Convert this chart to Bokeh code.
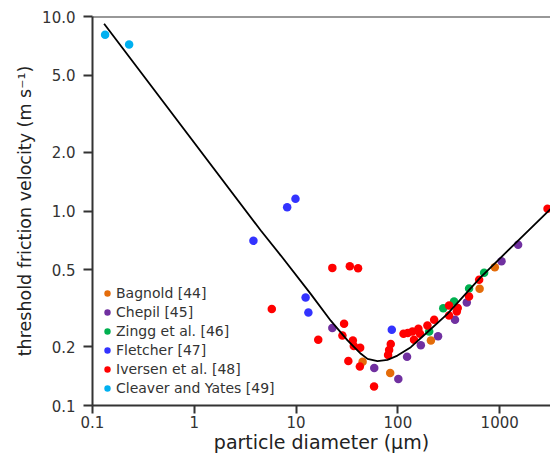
from bokeh.plotting import figure
from bokeh.models import (Range1d, FixedTicker, CustomJSTickFormatter, Span,
                          Legend, LegendItem)
from bokeh.embed import file_html
from bokeh.resources import INLINE

# ---------------- data ----------------
bagnold_d = [45, 84, 211, 635, 895]
bagnold_u = [0.168, 0.147, 0.216, 0.398, 0.514]

chepil_d = [22.7, 58.6, 101, 123, 168, 248, 364, 475, 1042, 1517]
chepil_u = [0.250, 0.156, 0.137, 0.178, 0.204, 0.227, 0.276, 0.339, 0.552, 0.670]

zingg_d = [203, 279, 356, 500, 703]
zingg_u = [0.240, 0.316, 0.343, 0.400, 0.481]

fletcher_d = [3.81, 8.17, 9.86, 12.4, 13.2, 87.1]
fletcher_u = [0.703, 1.046, 1.156, 0.359, 0.301, 0.245]

iversen_d = [5.77, 16.5, 22.7, 33.7, 40.6, 29.6, 28.5, 36.1, 36.9, 42.6, 32.6,
             42.3, 58.3, 85.1, 82, 80.1, 113.5, 125, 139, 159, 165, 144, 195,
             227, 318, 387, 379, 318, 500, 628, 2950]
iversen_u = [0.313, 0.218, 0.51, 0.52, 0.508, 0.263, 0.229, 0.216, 0.202, 0.198,
             0.1695, 0.1585, 0.1253, 0.207, 0.193, 0.182, 0.234, 0.236, 0.240,
             0.248, 0.234, 0.218, 0.2575, 0.276, 0.327, 0.317, 0.304, 0.290,
             0.363, 0.443, 1.026]

cleaver_d = [0.133, 0.229]
cleaver_u = [8.05, 7.18]

curve_d = [0.13, 4.5, 7.08, 13.9, 21.9, 32, 43.3, 50.3, 63, 79, 99, 134, 203,
           307, 652, 3420]
curve_u = [9.17, 0.794, 0.590, 0.375, 0.273, 0.216, 0.1845, 0.1737, 0.169,
           0.1717, 0.1806, 0.1995, 0.243, 0.296, 0.457, 1.067]

series_names = ["Bagnold [44]", "Chepil [45]", "Zingg et al. [46]",
                "Fletcher [47]", "Iversen et al. [48]", "Cleaver and Yates [49]"]
series_colors = ["#E46C0A", "#7030A0", "#00B050", "#3333FF", "#FF0000", "#00B0F0"]
series_data = [(bagnold_d, bagnold_u), (chepil_d, chepil_u), (zingg_d, zingg_u),
               (fletcher_d, fletcher_u), (iversen_d, iversen_u),
               (cleaver_d, cleaver_u)]

x_ticks = [0.1, 1, 10, 100, 1000]
y_ticks = [0.1, 0.2, 0.5, 1, 2, 5, 10]

FONT = "DejaVu Sans"
AXC = "#333333"

p = figure(width=550, height=455, x_axis_type="log", y_axis_type="log",
           x_range=Range1d(0.1, 3155), y_range=Range1d(0.1, 10),
           output_backend="svg", toolbar_location=None,
           min_border_left=92, min_border_right=0, min_border_top=16,
           min_border_bottom=50)
p.outline_line_color = None
p.grid.visible = False
p.background_fill_color = "white"
p.border_fill_color = "white"

# data points
renderers = []
for (d, u), c in zip(series_data, series_colors):
    r = p.scatter(d, u, size=8.5, color=c, line_color=None)
    renderers.append(r)

# fitted curve
p.line(curve_d, curve_u, line_color="black", line_width=1.8)

# top spine
p.add_layout(Span(location=10, dimension="width", line_color=AXC, line_width=2))

# axes
xa = p.xaxis[0]
xa.ticker = FixedTicker(ticks=x_ticks)
xa.formatter = CustomJSTickFormatter(code="return tick < 1 ? tick.toFixed(1) : tick.toFixed(0);")
ya = p.yaxis[0]
ya.ticker = FixedTicker(ticks=y_ticks)
ya.formatter = CustomJSTickFormatter(code="return tick.toFixed(1);")
for ax in (xa, ya):
    ax.axis_line_color = AXC
    ax.axis_line_width = 2
    ax.major_tick_line_color = AXC
    ax.major_tick_line_width = 2
    ax.major_tick_in = 0
    ax.minor_tick_line_color = None
    ax.major_label_text_font = FONT
    ax.major_label_text_font_size = "15px"
    ax.major_label_text_color = AXC
    ax.axis_label_text_font = FONT
    ax.axis_label_text_font_style = "normal"
    ax.axis_label_text_color = "#222222"

xa.major_tick_out = 8
ya.major_tick_out = 9
xa.axis_label = "particle diameter (µm)"
xa.axis_label_text_font_size = "19px"
xa.major_label_standoff = 2
xa.axis_label_standoff = 0
ya.axis_label = "threshold friction velocity (m s⁻¹)"
ya.axis_label_text_font_size = "17.5px"
ya.major_label_standoff = 8
ya.axis_label_standoff = 4

# legend
items = [LegendItem(label=n, renderers=[r]) for n, r in zip(series_names, renderers)]
leg = Legend(items=items, location=(7, 9), padding=0, margin=0,
             border_line_color=None, background_fill_alpha=0,
             glyph_width=16, glyph_height=16, label_height=16,
             label_standoff=1, spacing=3,
             label_text_font=FONT, label_text_font_size="14px",
             label_text_color=AXC)
p.add_layout(leg)

open("out.html", "w").write(file_html(p, INLINE))
